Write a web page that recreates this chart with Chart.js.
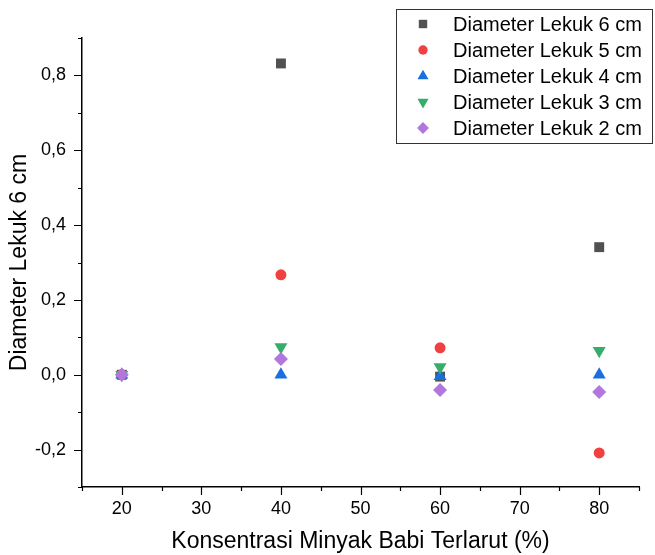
<!DOCTYPE html>
<html lang="id">
<head>
<meta charset="UTF-8">
<title>Diameter Lekuk</title>
<script src="https://cdn.jsdelivr.net/npm/chart.js"></script>
<style>
  html, body { margin: 0; padding: 0; background: #fff; }
  #wrap { width: 655px; height: 555px; }
</style>
</head>
<body>
<div id="wrap"><canvas id="chart" width="655" height="555"></canvas></div>
<script>
// data
const konsentrasi = [20, 40, 60, 80];
const lekuk6 = [0, 0.832, -0.005, 0.341];
const lekuk5 = [0, 0.267, 0.072, -0.209];
const lekuk4 = [0, 0, -0.004, 0];
const lekuk3 = [0, 0.074, 0.021, 0.064];
const lekuk2 = [0, 0.042, -0.041, -0.046];
const seriesLabels = ['Diameter Lekuk 6 cm', 'Diameter Lekuk 5 cm', 'Diameter Lekuk 4 cm', 'Diameter Lekuk 3 cm', 'Diameter Lekuk 2 cm'];
const xTitle = 'Konsentrasi Minyak Babi Terlarut (%)';
const yTitle = 'Diameter Lekuk 6 cm';

const FONT = "'Liberation Sans', Arial, sans-serif";
Chart.defaults.font.family = FONT;
Chart.defaults.color = '#000';

function pts(vals) {
  return konsentrasi.map((x, i) => ({ x: x, y: vals[i] }));
}

// marker styles per series
const styles = [
  { color: '#515151', pointStyle: 'rect', radius: 7, rotation: 0 },
  { color: '#F14040', pointStyle: 'circle', radius: 5.5, rotation: 0 },
  { color: '#1A6FDF', pointStyle: 'triangle', radius: 7.5, rotation: 0 },
  { color: '#37AD6B', pointStyle: 'triangle', radius: 7.5, rotation: 180 },
  { color: '#B177DE', pointStyle: 'rectRot', radius: 7, rotation: 0 }
];
const allSeries = [lekuk6, lekuk5, lekuk4, lekuk3, lekuk2];

const datasets = allSeries.map((vals, i) => ({
  label: seriesLabels[i],
  data: pts(vals),
  backgroundColor: styles[i].color,
  borderColor: styles[i].color,
  borderWidth: 0,
  pointStyle: styles[i].pointStyle,
  pointRadius: styles[i].radius,
  pointRotation: styles[i].rotation,
  order: 5 - i   // last series on top, like the reference
}));

// small outward tick marks, major longer than minor
const tickPlugin = {
  id: 'tickMarks',
  afterDraw(chart) {
    const ctx = chart.ctx;
    const area = chart.chartArea;
    const xs = chart.scales.x, ys = chart.scales.y;
    ctx.save();
    ctx.strokeStyle = '#000';
    ctx.lineWidth = 1.2;
    ctx.beginPath();
    xs.ticks.forEach(t => {
      const px = Math.round(xs.getPixelForValue(t.value)) + 0.5;
      const len = Math.round(t.value) % 10 === 0 ? 8 : 4;
      ctx.moveTo(px, area.bottom);
      ctx.lineTo(px, area.bottom + len);
    });
    ys.ticks.forEach(t => {
      const py = Math.round(ys.getPixelForValue(t.value)) + 0.5;
      const len = Math.abs(Math.round(t.value * 10)) % 2 === 0 ? 8 : 4;
      ctx.moveTo(area.left, py);
      ctx.lineTo(area.left - len, py);
    });
    ctx.stroke();
    ctx.restore();
  }
};

// boxed legend inside the top right corner
const legendPlugin = {
  id: 'boxLegend',
  afterDraw(chart) {
    const ctx = chart.ctx;
    ctx.save();
    ctx.strokeStyle = '#333';
    ctx.lineWidth = 1;
    ctx.strokeRect(396.5, 9.5, 256, 134);
    ctx.font = '20px ' + FONT;
    ctx.textBaseline = 'middle';
    chart.data.datasets.forEach((ds, i) => {
      const y = 24 + 26 * i;
      ctx.fillStyle = ds.backgroundColor;
      ctx.strokeStyle = ds.borderColor;
      Chart.helpers.drawPoint(ctx, {
        pointStyle: ds.pointStyle,
        radius: ds.pointRadius * 0.85,
        rotation: ds.pointRotation,
        borderWidth: 0
      }, 423, y);
      ctx.fillStyle = '#000';
      ctx.fillText(ds.label, 453, y + 1);
    });
    ctx.restore();
  }
};

new Chart(document.getElementById('chart'), {
  type: 'scatter',
  data: { datasets: datasets },
  options: {
    responsive: false,
    animation: false,
    layout: { padding: { top: 38, right: 16, left: 0, bottom: 0 } },
    plugins: {
      legend: { display: false },
      tooltip: { enabled: false }
    },
    scales: {
      x: {
        type: 'linear',
        min: 15,
        max: 85,
        grid: { display: false, drawTicks: false },
        border: { display: true, color: '#000', width: 1.5 },
        ticks: {
          stepSize: 5,
          autoSkip: false,
          maxRotation: 0,
          padding: 11,
          font: { size: 18 },
          color: '#000',
          callback: v => (Math.round(v) % 10 === 0 ? String(v) : '')
        },
        title: { display: true, text: xTitle, font: { size: 23 }, color: '#000', padding: { top: 0, bottom: 0 } },
        afterFit: s => { s.height = 68; }
      },
      y: {
        type: 'linear',
        min: -0.3,
        max: 0.9,
        grid: { display: false, drawTicks: false },
        border: { display: true, color: '#000', width: 1.5 },
        ticks: {
          stepSize: 0.1,
          autoSkip: false,
          padding: 16,
          font: { size: 18 },
          color: '#000',
          callback: v => {
            const k = Math.round(v * 10);
            return k % 2 === 0 ? (k / 10).toFixed(1).replace('.', ',') : '';
          }
        },
        title: { display: true, text: yTitle, font: { size: 23 }, color: '#000', padding: { top: 6, bottom: 0 } },
        afterFit: s => { s.width = 82; }
      }
    }
  },
  plugins: [tickPlugin, legendPlugin]
});
</script>
</body>
</html>
